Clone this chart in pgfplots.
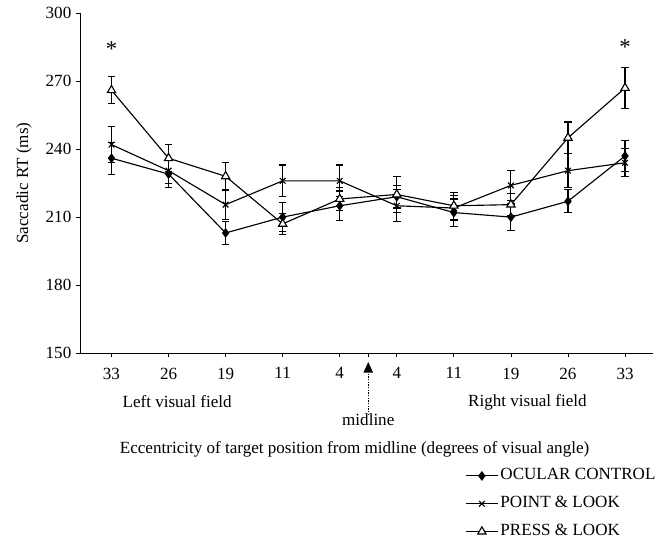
\documentclass[border=0pt]{standalone}
\usepackage{fontspec}
\setmainfont{Liberation Serif}
\usepackage{pgfplots}
\usepackage{pgfplotstable}
\pgfplotsset{compat=1.18}
\usetikzlibrary{arrows.meta}

\pgfplotstableread{
x y e
0 236 7
1 229 6
2 203 5.2
3 210 6.5
4 215 6.5
5 219 5
6 212 6
7 210 5.8
8 217 5
9 237 7
}\ocular
\pgfplotstableread{
x y e
0 242 8
1 230.5 5.5
2 215.5 6.7
3 226 7
4 226 7
5 215 7
6 214 5.5
7 224 6.7
8 230.5 7.5
9 234 6.2
}\pointlook
\pgfplotstableread{
x y e
0 266 6
1 236 6
2 228 6.2
3 207 4.6
4 218 5
5 220 8
6 215 6
7 215.5 5
8 245 7
9 267 9
}\presslook

\newcommand{\fs}{\fontsize{12.8}{15}\selectfont}

\begin{document}
\begin{tikzpicture}
\begin{axis}[
  scale only axis,
  width=429.75pt, height=254.8pt,
  xmin=-0.552, xmax=9.49, ymin=150, ymax=300,
  axis x line*=bottom, axis y line*=left,
  axis line style={line width=0.7pt},
  ytick={150,180,...,300},
  xtick={0,1,2,3,4,4.5,5,6,7,8,9},
  xticklabels={33,26,19,11,4,{},4,11,19,26,33},
  tick align=outside, major tick length=3pt,
  tick style={black, line width=0.6pt},
  font=\fs,
  tick label style={font=\fs},
  xticklabel style={yshift=-4.5pt},
  /pgf/number format/assume math mode=true,
  ylabel={Saccadic RT (ms)},
  every axis y label/.style={at={([xshift=-42pt]axis description cs:0,0.5)}, rotate=90, anchor=center},
  clip=false,
  legend style={draw=none, fill=none, at={(axis description cs:0.672,-0.3316)}, anchor=north west,
    row sep=5.9pt, inner sep=0pt, font=\fs,
    nodes={text height=9pt, text depth=3pt, inner sep=1.5pt}},
  legend cell align=left,
  legend image code/.code={\draw[mark repeat=2,mark phase=2] plot coordinates {(0pt,0pt)(12pt,0pt)(24pt,0pt)};},
]
\addplot[black, line width=0.85pt, mark=diamond*, mark size=3pt,
  error bars/.cd, y dir=both, y explicit, error mark=-,
  error bar style={line width=0.85pt},
  error mark options={rotate=90, mark size=2.8pt, line width=0.85pt}]
  table[x=x, y=y, y error=e]{\ocular};
\addlegendentry{OCULAR CONTROL}
\addplot[black, line width=0.85pt, mark=x, mark size=3pt,
  error bars/.cd, y dir=both, y explicit, error mark=-,
  error bar style={line width=0.85pt},
  error mark options={rotate=90, mark size=2.8pt, line width=0.85pt}]
  table[x=x, y=y, y error=e]{\pointlook};
\addlegendentry{POINT \& LOOK}
\addplot[black, line width=0.85pt, mark=triangle*, mark size=3.6pt, mark options={fill=white},
  error bars/.cd, y dir=both, y explicit, error mark=-,
  error bar style={line width=0.85pt},
  error mark options={rotate=90, mark size=2.8pt, line width=0.85pt}]
  table[x=x, y=y, y error=e]{\presslook};
\addlegendentry{PRESS \& LOOK}

\node[font=\fontsize{17}{17}\selectfont, yshift=-3pt] at (axis cs:0,285.9) {*};
\node[font=\fontsize{17}{17}\selectfont, yshift=-3pt] at (axis cs:9,287) {*};
\node at ([yshift=-36.75pt]axis cs:1.15,150) {Left visual field};
\node at ([yshift=-36.75pt]axis cs:7.29,150) {Right visual field};
\node at ([yshift=-50.25pt]axis cs:4.5,150) {midline};
\draw[densely dotted, line width=1pt, -{Triangle[width=7pt,length=8pt]}]
  ([yshift=-46.5pt]axis cs:4.5,150) -- ([yshift=-6.75pt]axis cs:4.5,150);
\node at ([yshift=-72pt]axis cs:4.26,150) {Eccentricity of target position from midline (degrees of visual angle)};
\path ([shift={(-60pt,-141pt)}]rel axis cs:0,0) rectangle ([shift={(434.25pt,264.75pt)}]rel axis cs:0,0);
\end{axis}
\end{tikzpicture}
\end{document}
